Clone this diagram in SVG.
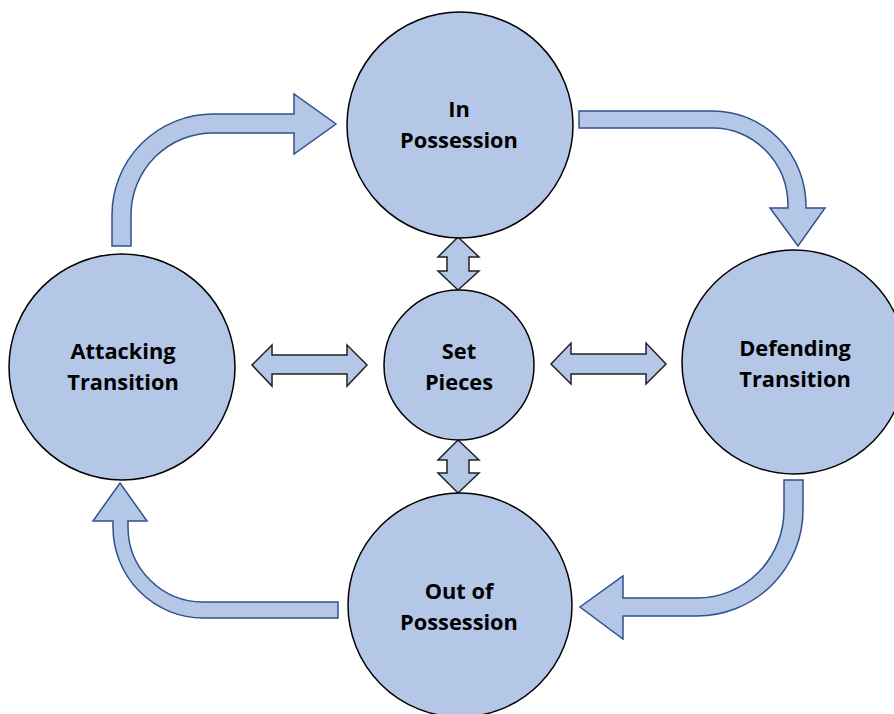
<svg xmlns="http://www.w3.org/2000/svg" width="894" height="714" viewBox="0 0 894 714">
<style>
.node{fill:#B4C7E7;stroke:#000;stroke-width:1.5}
.arr{fill:#B4C7E7;stroke:#2F528F;stroke-width:1.5;stroke-linejoin:miter}
.dbl{fill:#B4C7E7;stroke:#222;stroke-width:1.5;stroke-linejoin:miter}
.lbl{font-family:"Open Sans","Liberation Sans",sans-serif;font-weight:700;font-size:21.8px;fill:#000;text-anchor:middle}
</style>
<rect width="894" height="714" fill="#fff"/>
<g id="connectors">
<path class="arr" d="M112,246 L112,215 A101,101 0 0 1 213,114 L294,114 L294,94 L336,124 L294,154 L294,133 L213,133 A82,82 0 0 0 131,215 L131,246 Z"/>
<path class="arr" d="M579,111 L713,111 A93,95 0 0 1 806,206 L806,208 L825,208 L798,246 L770,208 L788,208 L788,206 A75,78 0 0 0 713,128 L579,128 Z"/>
<path class="arr" d="M784,480 L803,480 L803,510 A106,106 0 0 1 697,616 L623,616 L623,639 L580,607 L623,576 L623,598 L697,598 A87,88 0 0 0 784,510 Z"/>
<path class="arr" d="M338,602 L338,618 L203,618 A90,91 0 0 1 113,527 L113,521 L93,521 L120,483 L147,521 L128,521 L128,527 A75,75 0 0 0 203,602 Z"/>
<path class="dbl" d="M458,237 L479,257 L469,257 L469,271 L479,271 L458,290 L438,271 L447,271 L447,257 L438,257 Z"/>
<path class="dbl" d="M458,440 L479,460 L469,460 L469,473 L479,473 L458,493 L438,473 L447,473 L447,460 L438,460 Z"/>
<path class="dbl" d="M252,365 L272,345 L272,355 L347,355 L347,345 L367,365 L347,386 L347,374 L272,374 L272,386 Z"/>
<path class="dbl" d="M551,364 L571,343 L571,354 L646,354 L646,343 L666,364 L646,384 L646,374 L571,374 L571,384 Z"/>
</g>
<g id="in-possession">
<circle class="node" cx="460" cy="125" r="113"/>
<text class="lbl" x="459" y="117">In</text>
<text class="lbl" x="459" y="148">Possession</text>
</g>
<g id="attacking-transition">
<circle class="node" cx="122" cy="367" r="113"/>
<text class="lbl" x="123" y="359">Attacking</text>
<text class="lbl" x="123" y="390">Transition</text>
</g>
<g id="set-pieces">
<circle class="node" cx="459" cy="365" r="75"/>
<text class="lbl" x="459" y="359">Set</text>
<text class="lbl" x="459" y="390">Pieces</text>
</g>
<g id="defending-transition">
<circle class="node" cx="794" cy="362" r="112"/>
<text class="lbl" x="795" y="356">Defending</text>
<text class="lbl" x="795" y="387">Transition</text>
</g>
<g id="out-of-possession">
<circle class="node" cx="460" cy="605" r="112"/>
<text class="lbl" x="459" y="599">Out of</text>
<text class="lbl" x="459" y="630">Possession</text>
</g>
</svg>
